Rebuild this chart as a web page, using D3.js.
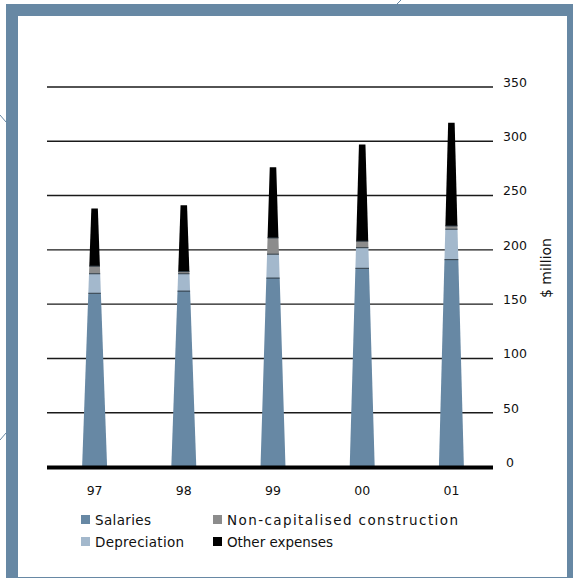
<!DOCTYPE html>
<html>
<head>
<meta charset="utf-8">
<script src="https://cdn.jsdelivr.net/npm/d3@7"></script>
<style>
  html, body { margin: 0; padding: 0; background: #fff; }
  svg { display: block; }
  text { font-family: "DejaVu Sans", sans-serif; fill: #111; }
</style>
</head>
<body>
<svg id="chart" width="573" height="578"></svg>
<script>
// Operating expenses by year ($ million)
const years = ["97", "98", "99", "00", "01"];
const salaries = [160, 162, 174, 183, 191];
const depreciation = [18, 16, 22, 19, 28];
const nonCapConstruction = [7, 2, 15, 6, 3];
const otherExpenses = [53, 61, 65, 89, 95];
const yTicks = [0, 50, 100, 150, 200, 250, 300, 350];

const seriesNames = ["Salaries", "Depreciation", "Non-capitalised construction", "Other expenses"];
const seriesColors = ["#6788a4", "#a3b8cc", "#8c8c8c", "#000000"];
const seriesValues = [salaries, depreciation, nonCapConstruction, otherExpenses];

const rows = years.map((y, i) => {
  const r = { year: y };
  seriesNames.forEach((s, k) => r[s] = seriesValues[k][i]);
  return r;
});

const svg = d3.select("#chart");
const frameColor = "#6788a4";

// Frame
svg.append("rect").attr("x", 6).attr("y", 4).attr("width", 580).attr("height", 580).attr("fill", frameColor);
svg.append("rect").attr("x", 18).attr("y", 16).attr("width", 549).attr("height", 561).attr("fill", "#fff");
svg.append("line").attr("x1", 18).attr("x2", 567).attr("y1", 577.5).attr("y2", 577.5)
  .attr("stroke", frameColor).attr("stroke-width", 1);

// Decorative fold lines outside the frame
[[0, 115, 6, 122], [0, 440, 6, 433], [397, 4, 404, -3]].forEach(([x1, y1, x2, y2]) => {
  svg.append("line").attr("x1", x1).attr("y1", y1).attr("x2", x2).attr("y2", y2)
    .attr("stroke", frameColor).attr("stroke-width", 1);
});

const x = d3.scaleBand().domain(years).range([50, 496]).padding(0);
const y = d3.scaleLinear().domain([0, 350]).range([467, 87]);

const gridLeft = 47, gridRight = 493;

// Grid lines
svg.append("g").selectAll("line").data(yTicks.filter(t => t > 0)).join("line")
  .attr("x1", gridLeft).attr("x2", gridRight)
  .attr("y1", d => y(d)).attr("y2", d => y(d))
  .attr("stroke", "#1a1a1a").attr("stroke-width", 1.4);

// Right-hand value axis
const yAxis = d3.axisRight(y).tickValues(yTicks).tickSize(0).tickPadding(0);
const gy = svg.append("g").attr("transform", `translate(${gridRight + 10},-5)`).call(yAxis);
gy.select(".domain").remove();
gy.selectAll("text").attr("font-family", "DejaVu Sans, sans-serif").attr("font-size", 12.5).attr("fill", "#111")
  .attr("x", d => d === 0 ? 3 : 0).attr("dy", "0.35em");

svg.append("text")
  .attr("transform", "translate(551, 268) rotate(-90)")
  .attr("text-anchor", "middle").attr("font-size", 14).text("$ million");

// Stacked tapering bars
const stack = d3.stack().keys(seriesNames);
const stacked = stack(rows);
const totals = rows.map(r => seriesNames.reduce((a, s) => a + r[s], 0));
const baseW = 25, topW = 6.5;

function widthAt(v, total) { return baseW - (baseW - topW) * (v / total); }

const barG = svg.append("g");
stacked.forEach((layer, k) => {
  barG.append("g").selectAll("path").data(layer).join("path")
    .attr("fill", seriesColors[k])
    .attr("d", (d, i) => {
      const cx = x(years[i]) + x.bandwidth() / 2;
      const T = totals[i];
      const w0 = widthAt(d[0], T), w1 = widthAt(d[1], T);
      return `M${cx - w0 / 2},${y(d[0])}L${cx + w0 / 2},${y(d[0])}L${cx + w1 / 2},${y(d[1])}L${cx - w1 / 2},${y(d[1])}Z`;
    });
});

// Thin dark seams between stacked segments
stacked.slice(0, 3).forEach(layer => {
  barG.append("g").selectAll("line").data(layer).join("line")
    .attr("x1", (d, i) => x(years[i]) + x.bandwidth() / 2 - widthAt(d[1], totals[i]) / 2)
    .attr("x2", (d, i) => x(years[i]) + x.bandwidth() / 2 + widthAt(d[1], totals[i]) / 2)
    .attr("y1", d => y(d[1])).attr("y2", d => y(d[1]))
    .attr("stroke", "#2e3a44").attr("stroke-width", 1);
});

// Baseline
svg.append("line").attr("x1", gridLeft).attr("x2", gridRight)
  .attr("y1", y(0) + 0.5).attr("y2", y(0) + 0.5)
  .attr("stroke", "#000").attr("stroke-width", 4);

// Category axis labels
const xAxis = d3.axisBottom(x).tickSize(0).tickPadding(0);
const gx = svg.append("g").attr("transform", `translate(0, 486)`).call(xAxis);
gx.select(".domain").remove();
gx.selectAll("text").attr("font-family", "DejaVu Sans, sans-serif").attr("font-size", 12.5).attr("fill", "#111");

// Legend
const legendItems = [
  { name: "Salaries", color: seriesColors[0], x: 81, y: 520, len: 56 },
  { name: "Non-capitalised construction", color: seriesColors[2], x: 213, y: 520, len: 231 },
  { name: "Depreciation", color: seriesColors[1], x: 81, y: 542, len: 89 },
  { name: "Other expenses", color: seriesColors[3], x: 213, y: 542, len: 106 }
];
const lg = svg.append("g").selectAll("g").data(legendItems).join("g")
  .attr("transform", d => `translate(${d.x},${d.y})`);
lg.append("rect").attr("x", 0).attr("y", -5).attr("width", 9).attr("height", 9).attr("fill", d => d.color);
lg.append("text").attr("x", 14).attr("y", 0).attr("dy", "0.35em").attr("font-size", 13.5)
  .attr("textLength", d => d.len).attr("lengthAdjust", "spacing")
  .text(d => d.name);
</script>
</body>
</html>
